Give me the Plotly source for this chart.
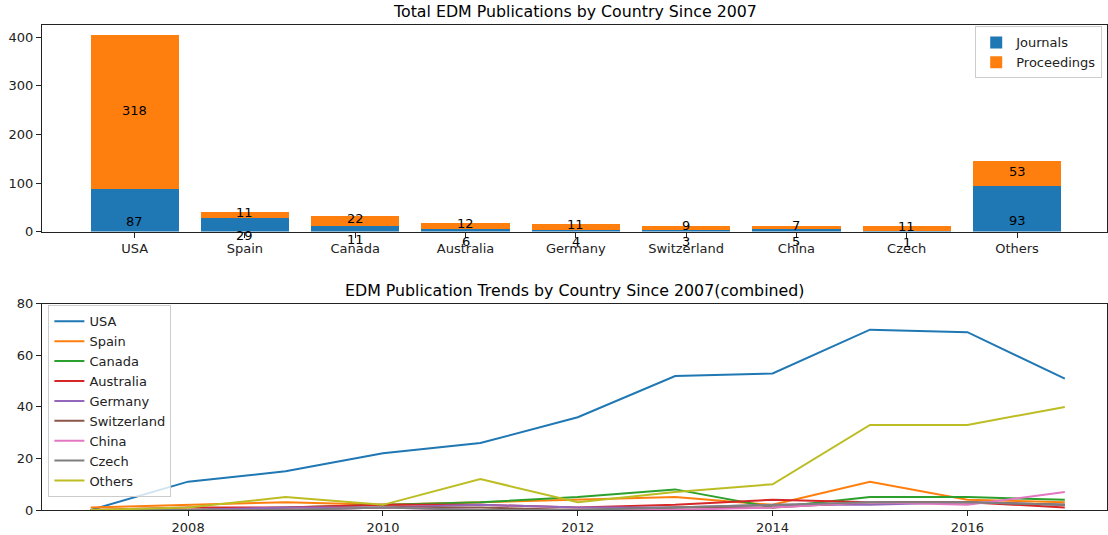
import plotly.graph_objects as go

countries = ["USA", "Spain", "Canada", "Australia", "Germany", "Switzerland", "China", "Czech", "Others"]
journals = [87, 29, 11, 6, 4, 3, 5, 1, 93]
proceedings = [318, 11, 22, 12, 11, 9, 7, 11, 53]

years = list(range(2007, 2018))
trend = {
    "USA":         [0, 11, 15, 22, 26, 36, 52, 53, 70, 69, 51],
    "Spain":       [1, 2, 3, 2, 3, 4, 5, 2, 11, 4, 3],
    "Canada":      [0, 0, 1, 2, 3, 5, 8, 1, 5, 5, 4],
    "Australia":   [0, 1, 1, 2, 2, 1, 2, 4, 3, 3, 1],
    "Germany":     [0, 0, 1, 1, 2, 1, 1, 2, 2, 3, 2],
    "Switzerland": [0, 0, 0, 1, 1, 0, 1, 1, 3, 3, 2],
    "China":       [0, 0, 0, 1, 0, 0, 0, 1, 3, 2, 7],
    "Czech":       [0, 0, 0, 1, 0, 0, 1, 2, 3, 3, 2],
    "Others":      [0, 1, 5, 2, 12, 3, 7, 10, 33, 33, 40],
}

palette = ["#1f77b4", "#ff7f0e", "#2ca02c", "#d62728", "#9467bd",
           "#8c564b", "#e377c2", "#7f7f7f", "#bcbd22"]

FONT = "DejaVu Sans"
TICK = 13
TITLE = 15.8

fig = go.Figure()

fig.add_trace(go.Bar(x=countries, y=journals, name="Journals", marker_color=palette[0],
                     marker_line_width=0, width=0.8, xaxis="x", yaxis="y", legend="legend"))
fig.add_trace(go.Bar(x=countries, y=proceedings, name="Proceedings", marker_color=palette[1],
                     marker_line_width=0, width=0.8, xaxis="x", yaxis="y", legend="legend"))

for i, name in enumerate(countries):
    fig.add_trace(go.Scatter(x=years, y=trend[name], mode="lines", name=name,
                             line=dict(color=palette[i], width=2),
                             xaxis="x2", yaxis="y2", legend="legend2"))

annotations = []
for c, j, p in zip(countries, journals, proceedings):
    annotations.append(dict(x=c, y=j / 2, xref="x", yref="y", text=str(j), showarrow=False,
                            yshift=-11, font=dict(family=FONT, size=TICK, color="black")))
    annotations.append(dict(x=c, y=j + p / 2, xref="x", yref="y", text=str(p), showarrow=False,
                            yshift=2, font=dict(family=FONT, size=TICK, color="black")))

annotations.append(dict(x=0.5, y=1, xref="paper", yref="paper", yanchor="bottom", yshift=2,
                        text="Total EDM Publications by Country Since 2007", showarrow=False,
                        font=dict(family=FONT, size=TITLE, color="black")))
annotations.append(dict(x=0.5, y=0.425, xref="paper", yref="paper", yanchor="bottom", yshift=2,
                        text="EDM Publication Trends by Country Since 2007(combined)", showarrow=False,
                        font=dict(family=FONT, size=TITLE, color="black")))

axis_common = dict(showline=True, linecolor="#222", linewidth=1.2, mirror=True,
                   ticks="outside", ticklen=5, tickcolor="#222", showgrid=False, zeroline=False,
                   tickfont=dict(family=FONT, size=TICK, color="#222"))

fig.update_layout(
    width=1108, height=535,
    margin=dict(l=42, r=0, t=25, b=23),
    paper_bgcolor="white", plot_bgcolor="white",
    barmode="stack",
    font=dict(family=FONT, size=TICK, color="#222"),
    annotations=annotations,
    xaxis=dict(domain=[0, 1], anchor="y", range=[-0.84, 8.816], **axis_common),
    yaxis=dict(domain=[0.574, 1], anchor="x", range=[0, 425.25], tickvals=[0, 100, 200, 300, 400], **axis_common),
    xaxis2=dict(domain=[0, 1], anchor="y2", range=[2006.5, 2017.433], tickvals=[2008, 2010, 2012, 2014, 2016], **axis_common),
    yaxis2=dict(domain=[0, 0.425], anchor="x2", range=[0, 80], tickvals=[0, 20, 40, 60, 80], **axis_common),
    legend=dict(x=0.9955, y=0.997, xanchor="right", yanchor="top", bgcolor="rgba(255,255,255,0.8)",
                bordercolor="#ccc", borderwidth=1, font=dict(family=FONT, size=TICK, color="#222"),
                traceorder="normal"),
    legend2=dict(x=0.006, y=0.422, xanchor="left", yanchor="top", bgcolor="rgba(255,255,255,0.8)",
                 bordercolor="#ccc", borderwidth=1, font=dict(family=FONT, size=TICK, color="#222"),
                 traceorder="normal"),
)

fig.write_html("out.html")
